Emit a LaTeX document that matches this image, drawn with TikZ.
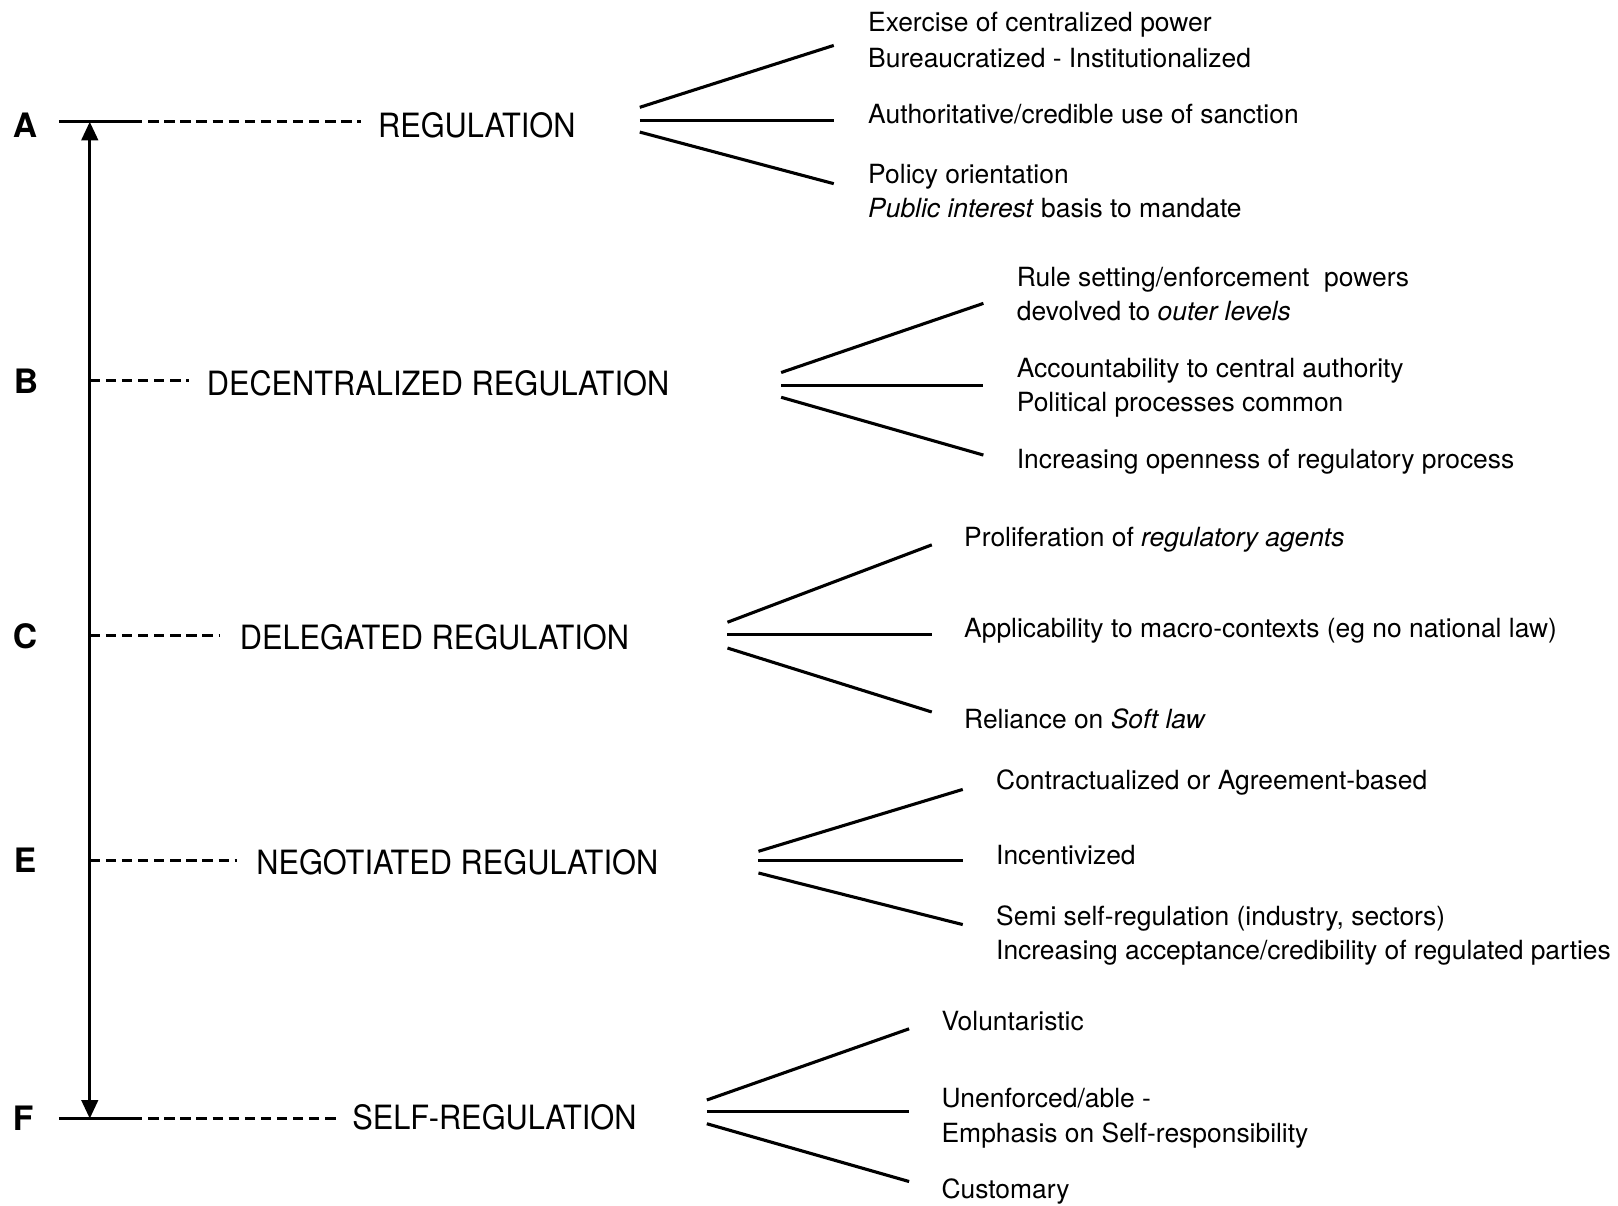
\documentclass[tikz,border=0pt]{standalone}
\usepackage{fontspec}
\setmainfont{TeX Gyre Heros}
\newfontfamily\levelfont[FakeStretch=0.92]{TeX Gyre Heros}
\usetikzlibrary{arrows.meta}
\tikzset{
  item/.style={anchor=base west, inner sep=0pt, font=\fontsize{12.8pt}{15pt}\selectfont},
  level/.style={anchor=base west, inner sep=0pt, font=\levelfont\fontsize{16.2pt}{18pt}\selectfont},
  tag/.style={anchor=base west, inner sep=0pt, font=\bfseries\fontsize{16.3pt}{18pt}\selectfont},
  solid rule/.style={line width=1.4pt},
  dash rule/.style={line width=1.3pt, dash pattern=on 5pt off 2.8pt},
  fan/.style={line width=1.5pt}
}
\begin{document}
\begin{tikzpicture}[x=0.5pt,y=-0.5pt]
\useasboundingbox (0,0) rectangle (1568,1168);

% level letters
\node[tag] (tA) at (12,133) {A};
\node[tag] (tB) at (13,381) {B};
\node[tag] (tC) at (12,628) {C};
\node[tag] (tE) at (13,846) {E};
\node[tag] (tF) at (12,1096) {F};

% scale axis
\coordinate (aL) at (57,118);
\coordinate (aM) at (87,118);
\coordinate (aR) at (128,118);
\coordinate (fL) at (57,1084);
\coordinate (fM) at (87,1084);
\coordinate (fR) at (128,1084);
\draw[solid rule] (aL) -- (aR);
\draw[solid rule] (fL) -- (fR);
\draw[line width=1.4pt, {Triangle[width=8pt,length=9pt]}-{Triangle[width=8pt,length=9pt]}] (aM) -- (fM);

% level labels
\node[level] (lA) at (366,133) {REGULATION};
\node[level] (lB) at (200,383) {DECENTRALIZED REGULATION};
\node[level] (lC) at (232,629) {DELEGATED REGULATION};
\node[level] (lE) at (248,847) {NEGOTIATED REGULATION};
\node[level] (lF) at (341,1095) {SELF-REGULATION};

% dashed leaders
\coordinate (bM) at (87,369);
\coordinate (cM) at (87,616);
\coordinate (eM) at (87,834);
\draw[dash rule] (aR) -- (350,118);
\draw[dash rule] (bM) -- (183,369);
\draw[dash rule] (cM) -- (212,616);
\draw[dash rule] (eM) -- (230,834);
\draw[dash rule] (fR) -- (327,1084);

% fan A
\coordinate (oA1) at (620,104); \coordinate (oA2) at (620,117); \coordinate (oA3) at (620,128);
\coordinate (eA1) at (808,44);  \coordinate (eA2) at (808,117); \coordinate (eA3) at (808,178);
\draw[fan] (oA1) -- (eA1); \draw[fan] (oA2) -- (eA2); \draw[fan] (oA3) -- (eA3);
% fan B
\coordinate (oB1) at (757,361); \coordinate (oB2) at (757,374); \coordinate (oB3) at (757,385);
\coordinate (eB1) at (953,294); \coordinate (eB2) at (953,374); \coordinate (eB3) at (953,441);
\draw[fan] (oB1) -- (eB1); \draw[fan] (oB2) -- (eB2); \draw[fan] (oB3) -- (eB3);
% fan C
\coordinate (oC1) at (705,603); \coordinate (oC2) at (705,615); \coordinate (oC3) at (705,628);
\coordinate (eC1) at (903,528); \coordinate (eC2) at (903,615); \coordinate (eC3) at (903,690);
\draw[fan] (oC1) -- (eC1); \draw[fan] (oC2) -- (eC2); \draw[fan] (oC3) -- (eC3);
% fan E
\coordinate (oE1) at (735,825); \coordinate (oE2) at (735,834); \coordinate (oE3) at (735,846);
\coordinate (eE1) at (933,765); \coordinate (eE2) at (933,834); \coordinate (eE3) at (933,896);
\draw[fan] (oE1) -- (eE1); \draw[fan] (oE2) -- (eE2); \draw[fan] (oE3) -- (eE3);
% fan F
\coordinate (oF1) at (685,1066); \coordinate (oF2) at (685,1077); \coordinate (oF3) at (685,1089);
\coordinate (eF1) at (881,997);  \coordinate (eF2) at (881,1077); \coordinate (eF3) at (881,1145);
\draw[fan] (oF1) -- (eF1); \draw[fan] (oF2) -- (eF2); \draw[fan] (oF3) -- (eF3);

% characteristics: regulation
\node[item] (iA1) at (841,31)  {Exercise of centralized power};
\node[item] (iA2) at (841,65)  {Bureaucratized - Institutionalized};
\node[item] (iA3) at (841,120) {Authoritative/credible use of sanction};
\node[item] (iA4) at (841,178) {Policy orientation};
\node[item] (iA5) at (841,211) {\textit{Public interest} basis to mandate};
% decentralized regulation
\node[item] (iB1) at (985,278) {Rule setting/enforcement\ \ powers};
\node[item] (iB2) at (985,311) {devolved to \textit{outer levels}};
\node[item] (iB3) at (985,366) {Accountability to central authority};
\node[item] (iB4) at (985,399) {Political processes common};
\node[item] (iB5) at (985,454) {Increasing openness of regulatory process};
% delegated regulation
\node[item] (iC1) at (934,530) {Proliferation of \textit{regulatory agents}};
\node[item] (iC2) at (934,618) {Applicability to macro-contexts (eg no national law)};
\node[item] (iC3) at (934,706) {Reliance on \textit{Soft law}};
% negotiated regulation
\node[item] (iE1) at (965,765) {Contractualized or Agreement-based};
\node[item] (iE2) at (965,838) {Incentivized};
\node[item] (iE3) at (965,897) {Semi self-regulation (industry, sectors)};
\node[item] (iE4) at (965,930) {Increasing acceptance/credibility of regulated parties};
% self-regulation
\node[item] (iF1) at (912,999)  {Voluntaristic};
\node[item] (iF2) at (912,1073) {Unenforced/able -};
\node[item] (iF3) at (912,1107) {Emphasis on Self-responsibility};
\node[item] (iF4) at (912,1161) {Customary};
\end{tikzpicture}
\end{document}
